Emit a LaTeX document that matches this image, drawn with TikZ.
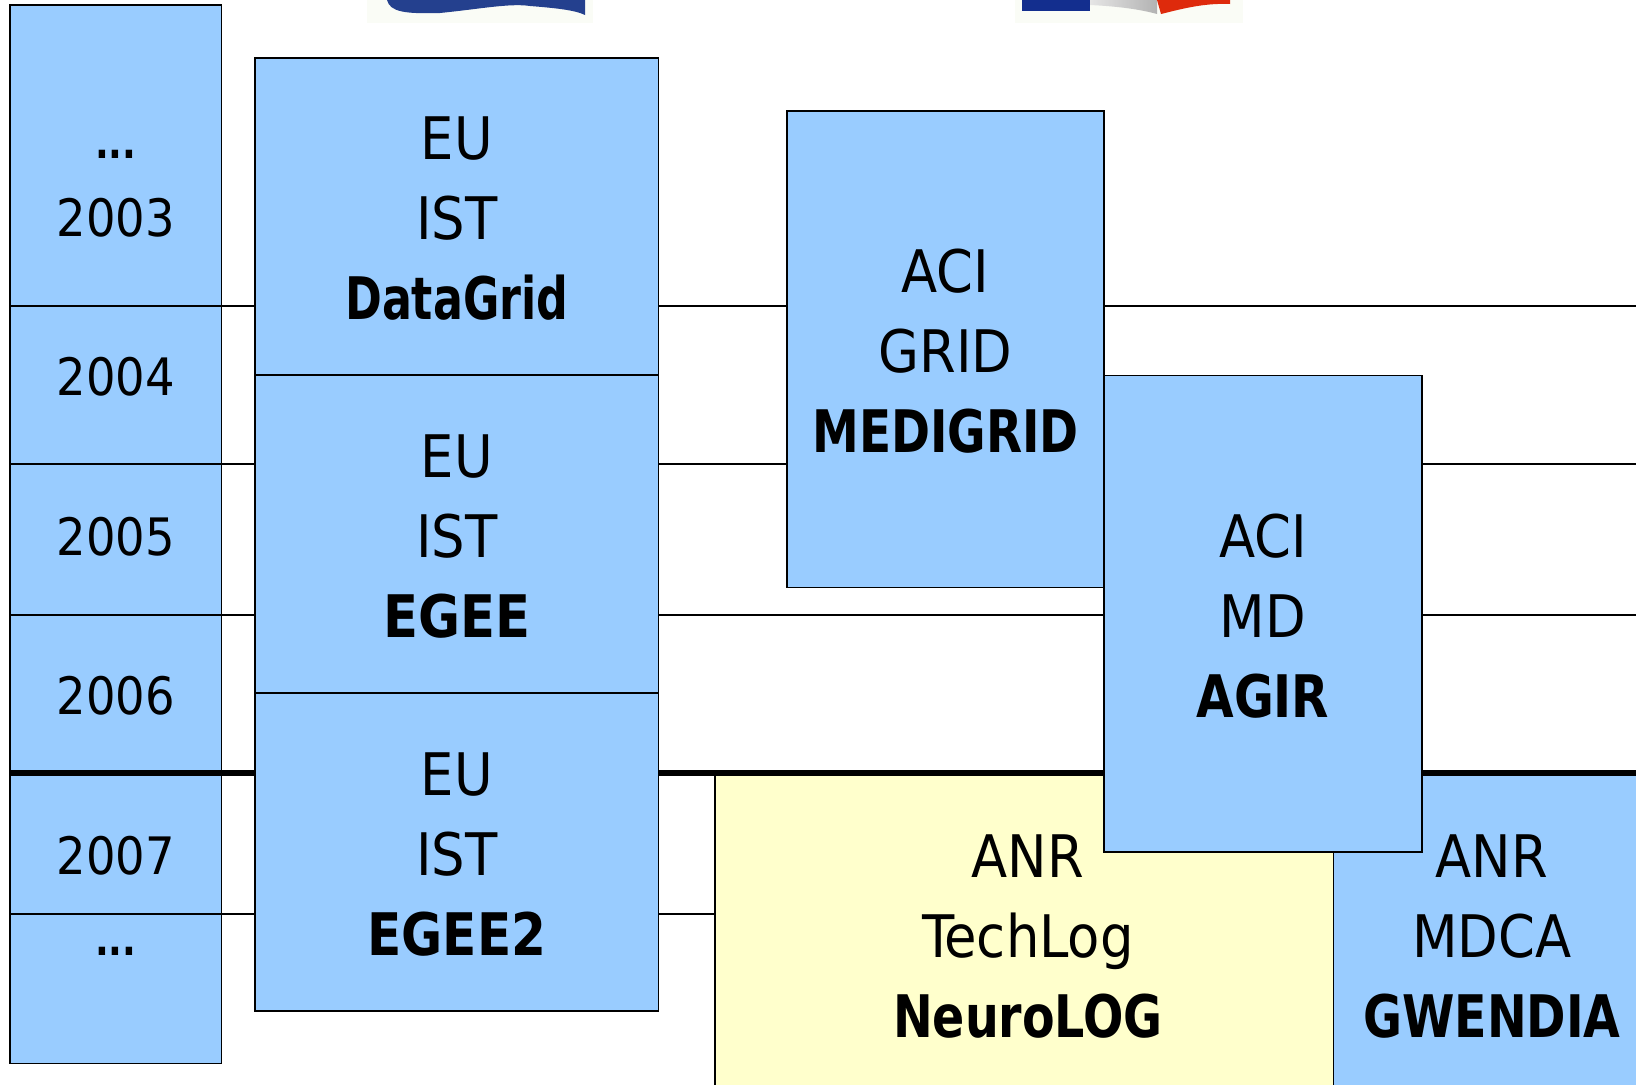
\documentclass[tikz,border=0pt]{standalone}
\usepackage{fontspec}
\setmainfont{DejaVu Sans Condensed}[BoldFont={DejaVu Sans Condensed Bold}]
\definecolor{cellblue}{HTML}{99CCFF}
\definecolor{cellyellow}{HTML}{FFFFCC}
\definecolor{euflag}{HTML}{24408E}
\definecolor{frblue}{HTML}{132E8E}
\definecolor{frred}{HTML}{DE2A0C}
\definecolor{flagpaper}{HTML}{FAFCF6}
\newcommand{\bword}[2]{\scalebox{#1}[1]{\textbf{#2}}}
\tikzset{
  cell/.style={draw=black,line width=1.1pt,fill=cellblue,inner sep=0pt,outer sep=0pt},
  yellowcell/.style={cell,fill=cellyellow},
  thinline/.style={draw=black,line width=1.1pt},
  thickline/.style={draw=black,line width=5.2pt},
  plain/.style={inner sep=0pt,outer sep=0pt,align=center,font=\fontsize{38.7pt}{60pt}\selectfont},
  projtext/.style={inner sep=0pt,outer sep=0pt,align=center,yshift=-1.6pt,font=\fontsize{44pt}{60pt}\selectfont}
}
\newcommand{\boxat}[6]{% name, style, x1, y1, x2, y2
  \node[#2,minimum width={(#5-#3)*0.75pt},minimum height={(#6-#4)*0.75pt}] (#1) at ({(#3+#5)/2},{(#4+#6)/2}) {};}
\begin{document}
\begin{tikzpicture}[x=0.75pt,y=-0.75pt]
\useasboundingbox (0,0) rectangle (1636,1085);
\clip (0,0) rectangle (1636,1085);
% flags
\fill[flagpaper] (367,0) rectangle (593,23);
\fill[euflag] (387,0) .. controls (390,12) and (405,14) .. (440,13) .. controls (480,9) and (510,3) .. (530,6) .. controls (555,8) and (575,10) .. (585,15) -- (585,0) -- cycle;
\fill[flagpaper] (1015,0) rectangle (1243,23);
\shade[left color=gray!20,right color=gray!60] (1090,0) -- (1090,5) .. controls (1110,6) and (1135,8) .. (1157,14) -- (1157,0) -- cycle;
\fill[frblue] (1022,0) rectangle (1090,11);
\fill[frred] (1157,0) -- (1161,14) .. controls (1185,8) and (1205,3) .. (1230,4) -- (1230,0) -- cycle;
% year column
\boxat{ytop}{cell}{10}{5}{221.5}{306}
\boxat{ybfour}{cell}{10}{306}{221.5}{464}
\boxat{ybfive}{cell}{10}{464}{221.5}{615}
\boxat{ybsix}{cell}{10}{615}{221.5}{773}
\boxat{ybseven}{cell}{10}{773}{221.5}{914}
\boxat{yend}{cell}{10}{914}{221.5}{1063.5}
\node[plain] (dotsA) at (115.7,154.5) {\scalebox{.78}[.85]{\textbf{...}}};
\node[plain] (y03) at (115.7,218) {2003};
\node[plain] (y04) at (115.7,376.7) {2004};
\node[plain] (y05) at (115.7,536.3) {2005};
\node[plain] (y06) at (115.7,696) {2006};
\node[plain] (y07) at (115.7,855.6) {2007};
\node[plain] (dotsB) at (115.7,951.5) {\scalebox{.78}[.85]{\textbf{...}}};
% free ends of the year lines
\coordinate (r03) at (1636,306);
\coordinate (r04) at (1636,464);
\coordinate (r05) at (1636,615);
\coordinate (r06) at (1636,773);
\coordinate (l07) at (715,914);
\draw[thinline] (ytop.south east) -- (r03);
\draw[thinline] (ybfour.south east) -- (r04);
\draw[thinline] (ybfive.south east) -- (r05);
\draw[thinline] (ybseven.south east) -- (l07);
% projects
\boxat{gwendia}{cell}{1333.5}{773}{1650.5}{1095}
\node[projtext] (gwendiatext) at (gwendia.center) {ANR\\MDCA\\\bword{.9}{GWENDIA}};
\boxat{neurolog}{yellowcell}{715}{773}{1333.5}{1095}
\node[projtext,xshift=2.7pt] (neurologtext) at (neurolog.center) {ANR\\TechLog\\\bword{.9}{NeuroLOG}};
\draw[thickline] (ybsix.south west) -- (r06);
\boxat{datagrid}{cell}{255}{58}{658.5}{375}
\node[projtext] (datagridtext) at (datagrid.center) {EU\\IST\\\bword{.84}{DataGrid}};
\boxat{egee}{cell}{255}{375}{658.5}{693}
\node[projtext] (egeetext) at (egee.center) {EU\\IST\\\bword{.97}{EGEE}};
\boxat{egeetwo}{cell}{255}{693}{658.5}{1011}
\node[projtext] (egeetwotext) at (egeetwo.center) {EU\\IST\\\bword{.95}{EGEE2}};
\boxat{medigrid}{cell}{787}{111}{1104}{587.5}
\node[projtext] (medigridtext) at (medigrid.center) {ACI\\GRID\\\bword{.89}{MEDIGRID}};
\boxat{agir}{cell}{1104}{375.5}{1422}{852}
\node[projtext] (agirtext) at (agir.center) {ACI\\MD\\\bword{.92}{AGIR}};
\end{tikzpicture}
\end{document}
